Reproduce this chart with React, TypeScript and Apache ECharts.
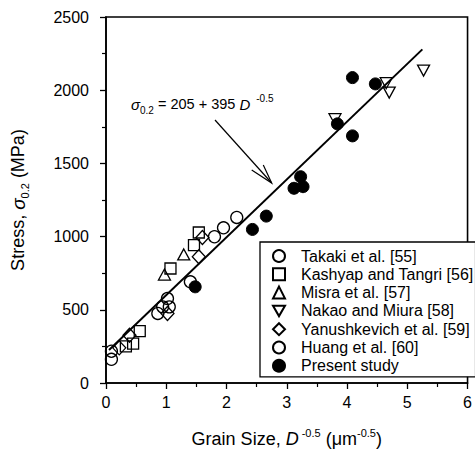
import React, { useEffect, useRef } from 'react';
import * as echarts from 'echarts';

const FONT = '"Liberation Sans", Arial, Helvetica, sans-serif';

// x ticks / y ticks
const xTicks = [0, 1, 2, 3, 4, 5, 6];
const yTicks = [0, 500, 1000, 1500, 2000, 2500];

// Series values
const takakiX = [0.09, 0.09, 0.86, 0.94, 1.02, 1.40];
const takakiY = [162, 217, 475, 520, 577, 691];
const kashyapX = [0.33, 0.45, 0.56, 1.07, 1.46, 1.54];
const kashyapY = [250, 269, 354, 782, 942, 1028];
const misraX = [0.97, 1.29];
const misraY = [741, 878];
const nakaoX = [3.80, 4.65, 4.70, 5.27];
const nakaoY = [1802, 2048, 1984, 2134];
const yanX = [0.22, 0.39, 1.02, 1.54, 1.60];
const yanY = [240, 326, 475, 862, 994];
const huangX = [1.05, 1.80, 1.95, 2.17];
const huangY = [520, 999, 1060, 1131];
const presentX = [1.48, 2.43, 2.66, 3.12, 3.23, 3.27, 3.84, 4.09, 4.09, 4.47];
const presentY = [657, 1049, 1140, 1330, 1409, 1341, 1770, 1688, 2086, 2043];

// Fit line endpoints: sigma = 205 + 395 D^-0.5
const fitX = [0.05, 5.25];
const fitY = [225, 2279];

const names = [
  'Takaki et al. [55]',
  'Kashyap and Tangri [56]',
  'Misra et al. [57]',
  'Nakao and Miura [58]',
  'Yanushkevich et al. [59]',
  'Huang et al. [60]',
  'Present study',
];

const pairs = (x: number[], y: number[]) => x.map((v, i) => [v, y[i]]);

export default function App() {
  const ref = useRef<HTMLDivElement>(null);
  useEffect(() => {
    document.body.style.margin = '0';
    const chart = echarts.init(ref.current!, null, { renderer: 'svg' });
    const open = (name: string, symbol: string, x: number[], y: number[], size: any) => ({
      type: 'scatter',
      name,
      symbol,
      symbolSize: size,
      data: pairs(x, y),
      itemStyle: { color: 'rgba(255,255,255,0)', borderColor: '#000', borderWidth: 1.3, opacity: 1 },
      z: 3,
    });
    const axisCommon = {
      axisLine: { show: true, onZero: false, lineStyle: { color: '#000', width: 1.6 } },
      axisTick: { show: true, inside: false, length: 6, lineStyle: { color: '#000', width: 1.3 } },
      minorTick: { show: true, splitNumber: 2, length: 4, lineStyle: { color: '#000', width: 1.2 } },
      splitLine: { show: false },
    };
    chart.setOption({
      animation: false,
      backgroundColor: '#fff',
      grid: {
        left: 106,
        top: 17,
        right: 2,
        bottom: 74,
        show: true,
        borderColor: '#000',
        borderWidth: 1.6,
        backgroundColor: 'transparent',
      },
      xAxis: {
        type: 'value',
        min: xTicks[0],
        max: xTicks[xTicks.length - 1],
        interval: 1,
        ...axisCommon,
        axisLabel: { color: '#000', fontSize: 16, fontFamily: FONT, margin: 11, formatter: (v: number) => String(v) },
        name: '{n|Grain Size, }{i|D}{sup| -0.5}{n| (μm}{sup|-0.5}{n|)}',
        nameLocation: 'middle',
        nameGap: 44,
        nameTextStyle: {
          color: '#000',
          fontFamily: FONT,
          fontSize: 18,
          rich: {
            n: { fontSize: 18, fontFamily: FONT, color: '#000', lineHeight: 24, verticalAlign: 'middle' },
            i: { fontSize: 18, fontFamily: FONT, fontStyle: 'italic', color: '#000', lineHeight: 24, verticalAlign: 'middle' },
            sup: { fontSize: 11, fontFamily: FONT, color: '#000', lineHeight: 12, verticalAlign: 'top' },
          },
        },
      },
      yAxis: {
        type: 'value',
        min: yTicks[0],
        max: yTicks[yTicks.length - 1],
        interval: 500,
        ...axisCommon,
        axisLabel: { color: '#000', fontSize: 16, fontFamily: FONT, margin: 17, formatter: (v: number) => String(v) },
        name: '{n|Stress, }{i|σ}{sub|0.2}{n| (MPa)}',
        nameLocation: 'middle',
        nameRotate: 90,
        nameGap: 76,
        nameTextStyle: {
          color: '#000',
          fontFamily: FONT,
          fontSize: 18,
          rich: {
            n: { fontSize: 18, fontFamily: FONT, color: '#000', lineHeight: 24, verticalAlign: 'middle' },
            i: { fontSize: 19, fontFamily: FONT, fontStyle: 'italic', color: '#000', lineHeight: 24, verticalAlign: 'middle' },
            sub: { fontSize: 11, fontFamily: FONT, color: '#000', lineHeight: 12, verticalAlign: 'bottom' },
          },
        },
      },
      legend: {
        data: names,
        orient: 'vertical',
        left: 260,
        top: 242,
        padding: [6, 2, 3, 12],
        itemWidth: 12,
        itemHeight: 12,
        itemGap: 2.3,
        borderColor: '#000',
        borderWidth: 1.3,
        backgroundColor: '#fff',
        textStyle: { color: '#000', fontSize: 16, fontFamily: FONT, lineHeight: 16, padding: [0, 0, 0, 11] },
        selectedMode: false,
        z: 10,
      },
      graphic: [
        {
          type: 'text',
          x: 131,
          y: 104,
          z: 20,
          style: {
            text: '{i|σ}{sub|0.2}{n| = 205 + 395 }{i|D}{sup|-0.5}',
            verticalAlign: 'middle',
            align: 'left',
            rich: {
              n: { fontSize: 14.5, fontFamily: FONT, fill: '#000', lineHeight: 22, verticalAlign: 'middle' },
              i: { fontSize: 15, fontFamily: FONT, fontStyle: 'italic', fill: '#000', lineHeight: 22, verticalAlign: 'middle' },
              sub: { fontSize: 10, fontFamily: FONT, fill: '#000', lineHeight: 10, verticalAlign: 'bottom' },
              sup: { fontSize: 10, fontFamily: FONT, fill: '#000', lineHeight: 10, verticalAlign: 'top', padding: [0, 0, 0, 6] },
            },
          },
        },
        {
          type: 'line',
          z: 20,
          shape: { x1: 215, y1: 120, x2: 271.7, y2: 183 },
          style: { stroke: '#000', lineWidth: 1.2 },
        },
        {
          type: 'polyline',
          z: 20,
          shape: { points: [[251.7, 170], [271.7, 183], [263.3, 165]] },
          style: { stroke: '#000', fill: 'none', lineWidth: 1.2 },
        },
      ],
      series: [
        {
          type: 'line',
          name: 'fit',
          data: pairs(fitX, fitY),
          showSymbol: false,
          symbol: 'none',
          lineStyle: { color: '#000', width: 2 },
          z: 4,
          silent: true,
        },
        open(names[0], 'circle', takakiX, takakiY, 12),
        open(names[1], 'rect', kashyapX, kashyapY, 11),
        open(names[2], 'triangle', misraX, misraY, [12, 11]),
        open(names[3], 'path://M0,0L10,0L5,8.7Z', nakaoX, nakaoY, [12, 11]),
        open(names[4], 'diamond', yanX, yanY, [13, 14]),
        open(names[5], 'circle', huangX, huangY, 12),
        {
          type: 'scatter',
          name: names[6],
          symbol: 'circle',
          symbolSize: 12,
          data: pairs(presentX, presentY),
          itemStyle: { color: '#000', borderColor: '#000', borderWidth: 1, opacity: 1 },
          z: 5,
        },
      ],
    });
    return () => chart.dispose();
  }, []);
  return <div ref={ref} style={{ width: 475, height: 457 }} />;
}
